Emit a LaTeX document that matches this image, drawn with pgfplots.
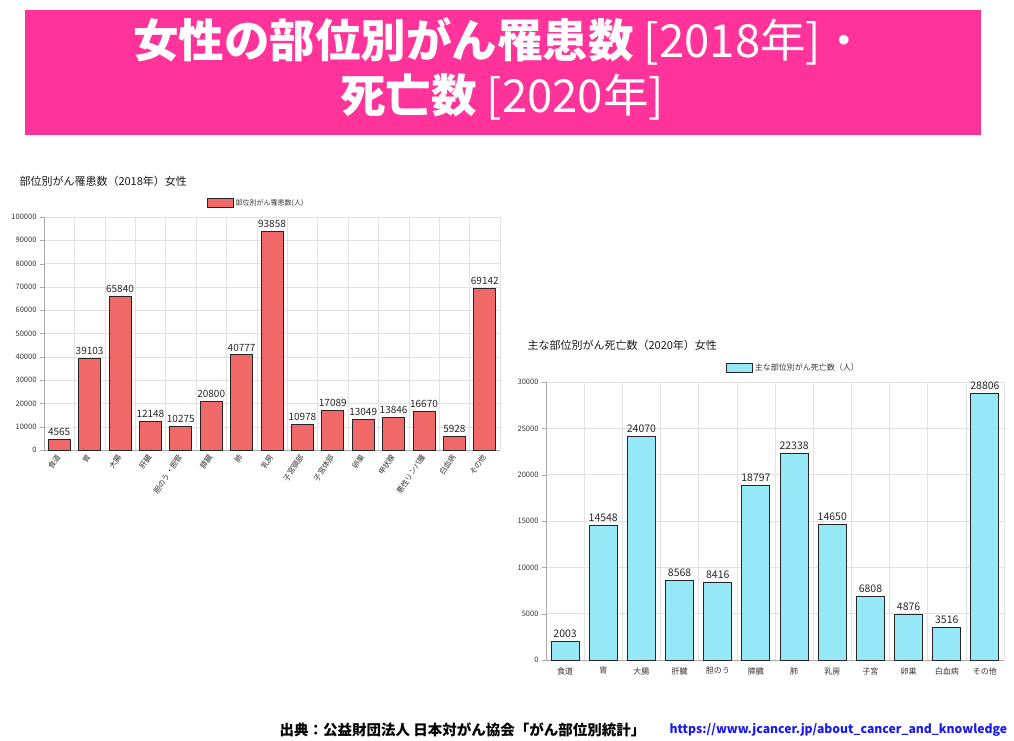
\documentclass[border=0pt]{standalone}
\usepackage{fontspec}
\setmainfont{Noto Sans CJK JP}
\usepackage{pgfplots}
\pgfplotsset{compat=1.18}
\definecolor{banner}{HTML}{FF3399}
\definecolor{redbar}{HTML}{F06868}
\definecolor{cyanbar}{HTML}{96E8F6}
\definecolor{gridc}{HTML}{E2E2E2}
\definecolor{axc}{HTML}{AAAAAA}
\definecolor{txt}{HTML}{333333}
\definecolor{urlc}{HTML}{1A1AEE}
\newcommand{\fs}[1]{\fontsize{#1}{#1}\selectfont}
\pgfplotsset{mybar/.style={
  scale only axis, ybar, enlarge x limits=false, enlarge y limits=false, ymin=0,
  axis x line*=bottom, axis y line*=left, axis line style={draw=axc,-},
  ymajorgrids, xminorgrids, major grid style={draw=gridc}, minor grid style={draw=gridc},
  xtick style={draw=none}, ytick style={draw=axc}, tick align=outside, major tick length=4pt,
  scaled y ticks=false,
  /pgf/number format/fixed, /pgf/number format/precision=0,
  /pgf/number format/1000 sep={}, /pgf/number format/assume math mode=true,
  yticklabel style={font=\fs{7.5}, text=txt},
  nodes near coords, nodes near coords align={vertical},
  legend image code/.code={\draw[##1] (0pt,-4.5pt) rectangle (26pt,4.5pt);},
}}
\begin{document}
\begin{tikzpicture}
\path[use as bounding box] (0pt,0pt) rectangle (1014pt,-741pt);
\fill[banner] (25pt,-10pt) rectangle (981pt,-135pt);
\node[white,font=\fs{45.5}] at (500pt,-41pt) {\textbf{女性の部位別がん罹患数} [2018年]・};
\node[white,font=\fs{45.5}] at (502pt,-97pt) {\textbf{死亡数} [2020年]};

\node[anchor=west,font=\fs{11},text=black!90] at (16pt,-181pt) {部位別がん罹患数（2018年）女性};
\node[anchor=west,font=\fs{11},text=black!90] at (524pt,-345pt) {主な部位別がん死亡数（2020年）女性};

\begin{axis}[mybar, at={(44pt,-450pt)}, anchor=south west, width=456pt, height=233pt,
  ymax=100000, ytick={0,10000,...,100000},
  xmin=-0.5, xmax=14.5, xtick={0,...,14},
  minor xtick={-0.5,0.5,...,14.5},
  xticklabels={食道,胃,大腸,肝臓,胆のう・胆管,膵臓,肺,乳房,子宮頸部,子宮体部,卵巣,甲状腺,悪性リンパ腫,白血病,その他},
  xticklabel style={rotate=57, anchor=east, font=\fs{7.5}, text=txt, inner sep=1.5pt},
  bar width=22pt,
  every node near coord/.append style={font=\fs{10}, text=black!85},
  legend style={at={(0.465,1.06)}, anchor=center, draw=none, fill=none, font=\fs{7}, text=txt, inner sep=0pt},
]
\addplot[fill=redbar, draw=black!85, line width=1pt] coordinates {
(0,4565) (1,39103) (2,65840) (3,12148) (4,10275) (5,20800) (6,40777) (7,93858)
(8,10978) (9,17089) (10,13049) (11,13846) (12,16670) (13,5928) (14,69142)};
\addlegendentry{部位別がん罹患数(人)}
\end{axis}

\begin{axis}[mybar, at={(546pt,-660pt)}, anchor=south west, width=458pt, height=278pt,
  ymax=30000, ytick={0,5000,...,30000},
  xmin=-0.5, xmax=11.5, xtick={0,...,11},
  minor xtick={-0.5,0.5,...,11.5},
  xticklabels={食道,胃,大腸,肝臓,胆のう,膵臓,肺,乳房,子宮,卵巣,白血病,その他},
  xticklabel style={font=\fs{8}, text=txt},
  bar width=28pt,
  every node near coord/.append style={font=\fs{10.5}, text=black!85},
  legend style={at={(0.54,1.05)}, anchor=center, draw=none, fill=none, font=\fs{8}, text=txt, inner sep=0pt},
]
\addplot[fill=cyanbar, draw=black!85, line width=1pt] coordinates {
(0,2003) (1,14548) (2,24070) (3,8568) (4,8416) (5,18797) (6,22338) (7,14650)
(8,6808) (9,4876) (10,3516) (11,28806)};
\addlegendentry{主な部位別がん死亡数（人）}
\end{axis}

\node[anchor=west,font=\fs{14.5}\bfseries] at (276pt,-730pt) {出典：公益財団法人 日本対がん協会「がん部位別統計」};
\node[anchor=west,font=\fs{12.2}\bfseries,text=urlc] at (666pt,-730pt) {https://www.jcancer.jp/about\_cancer\_and\_knowledge};
\end{tikzpicture}
\end{document}
